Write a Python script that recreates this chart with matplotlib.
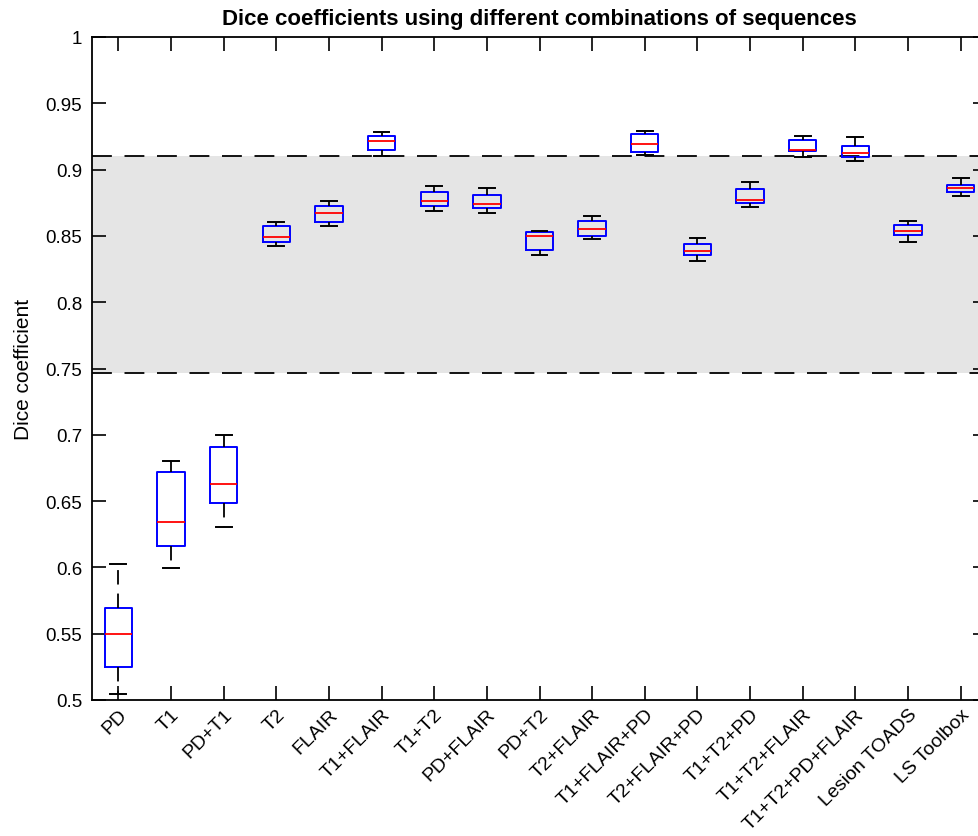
#!/usr/bin/env python3
"""Box plot of Dice coefficients for different MRI sequence combinations."""

import matplotlib

matplotlib.use("Agg")
import matplotlib.pyplot as plt

plt.rcParams["font.family"] = ["Liberation Sans", "DejaVu Sans"]

LABELS = [
    "PD", "T1", "PD+T1", "T2", "FLAIR", "T1+FLAIR", "T1+T2", "PD+FLAIR",
    "PD+T2", "T2+FLAIR", "T1+FLAIR+PD", "T2+FLAIR+PD", "T1+T2+PD",
    "T1+T2+FLAIR", "T1+T2+PD+FLAIR", "Lesion TOADS", "LS Toolbox",
]
WHISK_LO = [0.5045, 0.5995, 0.6307, 0.8426, 0.8577, 0.9105, 0.8690, 0.8670,
            0.8358, 0.8474, 0.9110, 0.8311, 0.8720, 0.9093, 0.9063, 0.8456, 0.8803]
Q1 = [0.5249, 0.6161, 0.6483, 0.8456, 0.8603, 0.9146, 0.8723, 0.8713,
      0.8396, 0.8499, 0.9135, 0.8358, 0.8746, 0.9138, 0.9098, 0.8507, 0.8829]
MEDIAN = [0.5500, 0.6342, 0.6631, 0.8489, 0.8670, 0.9213, 0.8763, 0.8741,
          0.8499, 0.8554, 0.9193, 0.8386, 0.8773, 0.9150, 0.9128, 0.8540, 0.8861]
Q3 = [0.5694, 0.6719, 0.6906, 0.8572, 0.8728, 0.9251, 0.8829, 0.8808,
      0.8527, 0.8615, 0.9266, 0.8439, 0.8856, 0.9223, 0.9176, 0.8585, 0.8884]
WHISK_HI = [0.6026, 0.6802, 0.7001, 0.8603, 0.8766, 0.9286, 0.8879, 0.8859,
            0.8537, 0.8648, 0.9291, 0.8484, 0.8909, 0.9256, 0.9246, 0.8610, 0.8937]

# expert inter-rater range (shaded band)
BAND_LO = 0.7464
BAND_HI = 0.9103

YTICKS = [0.5, 0.55, 0.6, 0.65, 0.7, 0.75, 0.8, 0.85, 0.9, 0.95, 1]
YTICKLABELS = ["0.5", "0.55", "0.6", "0.65", "0.7", "0.75", "0.8", "0.85", "0.9", "0.95", "1"]


def main() -> None:
    fig = plt.figure(figsize=(9.79, 8.37), dpi=100)
    ax = fig.add_axes([92 / 979, 1 - 701 / 837, (987 - 92) / 979, (701 - 38) / 837])

    n = len(LABELS)
    positions = list(range(1, n + 1))

    ax.axhspan(BAND_LO, BAND_HI, color="#e5e5e5", zorder=0, linewidth=0)
    for yv in (BAND_LO, BAND_HI):
        ax.axhline(yv, color="black", linewidth=1.3, linestyle=(0, (11, 7)), zorder=1)

    stats = []
    for i, lab in enumerate(LABELS):
        stats.append(
            {
                "label": lab,
                "whislo": WHISK_LO[i],
                "q1": Q1[i],
                "med": MEDIAN[i],
                "q3": Q3[i],
                "whishi": WHISK_HI[i],
                "fliers": [],
            }
        )

    ax.bxp(
        stats,
        positions=positions,
        widths=0.52,
        capwidths=0.3,
        showfliers=False,
        boxprops=dict(color="blue", linewidth=1.4),
        medianprops=dict(color="red", linewidth=1.3),
        whiskerprops=dict(color="black", linewidth=1.3, linestyle=(0, (8, 5))),
        capprops=dict(color="black", linewidth=1.4),
        zorder=3,
    )

    ax.set_xlim(0.5, n + 0.5)
    ax.set_ylim(0.5, 1.0)
    ax.set_xticks(positions)
    ax.set_xticklabels(LABELS, rotation=45, ha="right", va="top",
                       rotation_mode="anchor", fontsize=14)
    ax.set_yticks(YTICKS)
    ax.set_yticklabels(YTICKLABELS, fontsize=13.5)
    ax.tick_params(axis="both", direction="in", length=10, width=1.2,
                   top=True, right=True, color="black")
    ax.tick_params(axis="x", pad=4)
    ax.tick_params(axis="y", pad=7)
    for sp in ax.spines.values():
        sp.set_linewidth(1.3)

    ax.set_ylabel("Dice coefficient", fontsize=15, labelpad=9)
    ax.set_title("Dice coefficients using different combinations of sequences",
                 fontsize=16, fontweight="bold", pad=9)

    fig.savefig("out.png", dpi=100)
    plt.close(fig)


if __name__ == "__main__":
    main()
